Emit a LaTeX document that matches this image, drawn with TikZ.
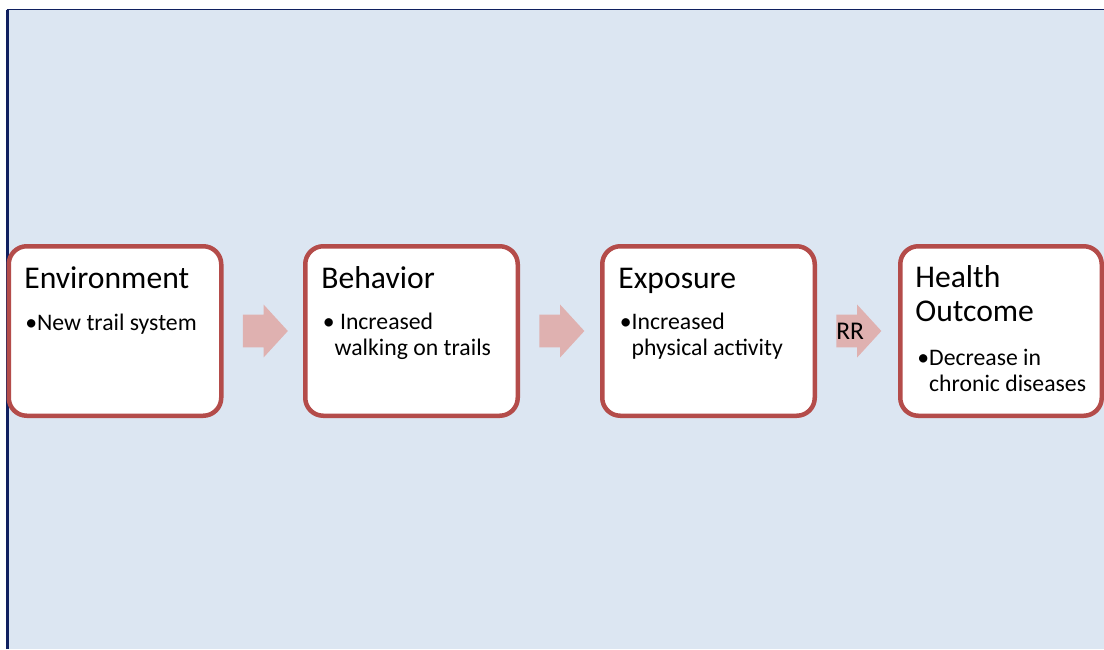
\documentclass[tikz,border=0pt]{standalone}
\usepackage{fontspec}
\setmainfont{Carlito}
\usetikzlibrary{positioning,shapes.arrows}

\definecolor{pBack}{RGB}{220,230,242}
\definecolor{pNavy}{RGB}{16,32,96}
\definecolor{pEdge}{RGB}{180,76,74}
\definecolor{pArrow}{RGB}{223,177,176}

\begin{document}
\begin{tikzpicture}[
    stage/.style={draw=pEdge, line width=0.09cm, fill=white, rounded corners=0.36cm,
      minimum width=4.25cm, minimum height=3.39cm, inner sep=0pt},
    blockarrow/.style={single arrow, fill=pArrow, draw=none,
      inner xsep=0pt, inner ysep=0.32cm,
      minimum height=0.9cm, minimum width=1.04cm,
      single arrow head extend=0.2cm, single arrow head indent=0pt,
      single arrow tip angle=95},
    titletext/.style={anchor=base west, inner sep=0pt, align=left,
      font=\fontsize{18}{19.6}\selectfont},
    bodytext/.style={anchor=base west, inner sep=0pt, align=left,
      font=\fontsize{13.5}{14.6}\selectfont}]

  \useasboundingbox (0,0) rectangle (22.08,-12.98);

  % ---- background ----
  \fill[white] (0,0) rectangle (22.08,-12.98);
  \fill[pBack] (0.15,-0.19) rectangle (22.08,-12.98);
  \draw[pNavy, line width=0.045cm] (0.15,-12.98) -- (0.15,-0.19);
  \draw[pNavy, line width=0.03cm] (0.13,-0.19) -- (22.08,-0.19);

  % ---- stages ----
  \node[stage] (env) at (2.30,-6.62) {};
  \node[stage] (beh) at (8.23,-6.62) {};
  \node[stage] (exp) at (14.17,-6.62) {};
  \node[stage, minimum width=4.03cm] (out) at (20.02,-6.62) {};

  % ---- arrows ----
  \node[blockarrow, right=0.38cm of env] (a1) {};
  \node[blockarrow, right=0.38cm of beh] (a2) {};
  \node[blockarrow, right=0.38cm of exp] (a3) {};
  \node[bodytext, anchor=west, font=\fontsize{14.5}{15}\selectfont] (rr) at (a3.tail) {RR};

  % ---- labels (multi-line: base is the last line) ----
  \node[titletext] (envtitle) at (0.48,-5.76) {Environment};
  \node[bodytext] (envbody) at (0.50,-6.60) {•New trail system};

  \node[titletext] (behtitle) at (6.42,-5.76) {Behavior};
  \node[bodytext] (behbody) at (6.45,-7.11) {• Increased\\\phantom{•}walking on trails};

  \node[titletext] (exptitle) at (12.36,-5.76) {Exposure};
  \node[bodytext] (expbody) at (12.39,-7.11) {•Increased\\\phantom{•}physical activity};

  \node[titletext] (outtitle) at (18.30,-6.43) {Health\\Outcome};
  \node[bodytext] (outbody) at (18.34,-7.83) {•Decrease in\\\phantom{•}chronic diseases};

\end{tikzpicture}
\end{document}
